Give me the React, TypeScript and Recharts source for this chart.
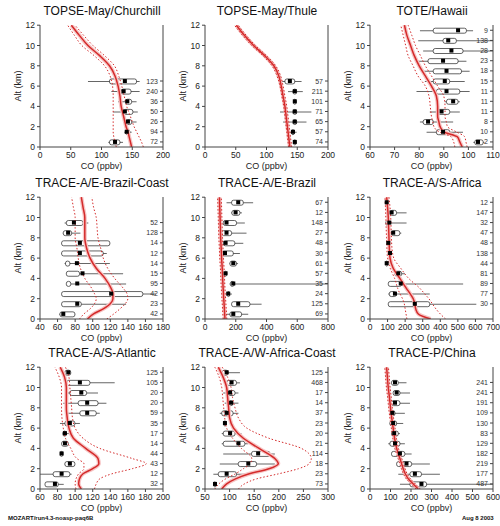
import { ComposedChart, Bar, Line, XAxis, YAxis } from "recharts";

// model profile altitudes (km), shared by all panels
const PROFILE_ALT = [0, 0.5, 1, 1.5, 2, 2.5, 3, 4, 5, 6, 7, 8, 9, 10, 11, 12];

// --- TOPSE-May/Churchill
const churAlt = [6.5, 5.5, 4.5, 3.5, 2.5, 1.5, 0.5];
const churMin = [78, 116, 127, 119, 135, 137, 111];
const churQ1 = [113, 132, 139, 136, 139, 139, 113];
const churMed = [138, 136, 142, 138, 143, 141, 122];
const churQ3 = [157, 148, 149, 151, 149, 146, 130];
const churMax = [162, 162, 157, 159, 157, 149, 135];
const churN = [123, 240, 36, 50, 26, 94, 72];
const churModel = [149, 147, 145, 143, 140, 138, 136, 132, 130, 127, 122, 113, 97, 78, 64, 51];
const churLo = [124, 122, 120, 119, 119, 119, 119, 119, 119, 118, 114, 105, 88, 68, 56, 45];
const churHi = [168, 165, 161, 157, 153, 150, 147, 141, 137, 133, 128, 121, 105, 86, 71, 57];

// --- TOPSE-May/Thule
const thuAlt = [6.5, 5.5, 4.5, 3.5, 2.5, 1.5, 0.5];
const thuMin = [124, 135, 143, 122, 127, 135, 143];
const thuQ1 = [130, 143, 144, 143, 143, 141, 144];
const thuMed = [138, 146, 146, 146, 146, 143, 146];
const thuQ3 = [146, 149, 148, 149, 149, 145, 148];
const thuMax = [157, 159, 149, 173, 165, 149, 149];
const thuN = [57, 211, 101, 71, 65, 57, 74];
const thuModel = [138, 137, 136, 135, 134, 133, 132, 130, 127, 124, 120, 112, 97, 79, 64, 51];
const thuLo = [136, 135, 134, 133, 132, 131, 130, 128, 125, 122, 117, 109, 94, 76, 61, 48];
const thuHi = [141, 140, 139, 138, 137, 136, 135, 133, 130, 127, 123, 115, 100, 82, 67, 54];

// --- TOTE/Hawaii
const hawAlt = [11.5, 10.5, 9.5, 8.5, 7.5, 6.5, 5.5, 4.5, 3.5, 2.5, 1.5, 0.5];
const hawMin = [80.3, 79.6, 81.6, 79.6, 81.6, 82.3, 78.9, 90.4, 84.3, 80.3, 83, 102];
const hawQ1 = [85.7, 89.7, 85.7, 83.6, 85.7, 85.7, 87, 91.1, 87, 81.6, 87, 102.6];
const hawMed = [95.8, 91.8, 93.1, 89.7, 91.1, 90.4, 91.1, 93.8, 89.1, 83.6, 89.7, 103.9];
const hawQ3 = [99.2, 95.1, 97.8, 95.8, 97.2, 92.4, 96.5, 95.8, 92.4, 85.7, 92.4, 106];
const hawMax = [101.9, 110, 110, 99.2, 100.5, 98.5, 100.5, 96.5, 96.5, 93.8, 97.8, 106.5];
const hawN = [9, 138, 28, 23, 18, 15, 11, 11, 11, 8, 10, 2];
const hawModel = [97.5, 96.5, 95.5, 90, 88.5, 88, 87.5, 87.5, 87, 85, 82.5, 80, 78, 76.5, 75, 74];
const hawLo = [94.5, 94, 93, 88, 86, 85.5, 85, 84.5, 84, 82.5, 79.5, 77.5, 75.5, 74.5, 73.5, 72.5];
const hawHi = [99.5, 99, 98.5, 95, 91.5, 91, 90.5, 90.5, 90, 87.5, 85, 82.5, 80.5, 78.5, 77, 75.5];

// --- TRACE-A/E-Brazil-Coast
const ebcAlt = [9.5, 8.5, 7.5, 6.5, 5.5, 4.5, 3.5, 2.5, 1.5, 0.5];
const ebcMin = [68, 66, 64.6, 64.6, 68, 70, 70, 64.6, 64.6, 62];
const ebcQ1 = [70, 66.5, 64.6, 64.6, 69, 70, 70, 64.6, 64.6, 62.7];
const ebcMed = [78.6, 72, 85.4, 85.4, 82, 88.4, 82.4, 121, 82.4, 66.5];
const ebcQ3 = [89, 76, 119.5, 112, 74, 85, 75, 157, 87, 79.7];
const ebcMax = [95, 86, 119.5, 116, 119.5, 134.6, 138, 172, 138, 80];
const ebcN = [52, 128, 14, 12, 14, 15, 95, 42, 23, 42];
const ebcModel = [94, 101, 112, 120, 123, 123, 121, 114, 104, 97, 93, 91, 91, 91, 89, 87];
const ebcLo = [85, 90, 97, 102, 104, 102, 99, 91, 86, 83.5, 82, 80, 80, 80, 78, 76];
const ebcHi = [116, 124, 131, 137, 140, 139, 135, 125, 117, 112, 109, 106, 105, 104, 101, 99];

// --- TRACE-A/E-Brazil
const ebrAlt = [11.5, 10.5, 9.5, 8.5, 7.5, 6.5, 5.5, 4.5, 3.5, 2.5, 1.5, 0.5];
const ebrMin = [140, 170, 119, 108, 119, 108, 160, 125, 160, 140, 173, 140];
const ebrQ1 = [173, 175, 119, 108, 119, 108, 162, 128, 165, 145, 173, 162];
const ebrMed = [216, 199, 140, 140, 134, 130, 184, 134, 184, 151, 216, 184];
const ebrQ3 = [249, 227, 205, 173, 194, 184, 205, 140, 190, 160, 292, 238];
const ebrMax = [313, 240, 259, 270, 249, 227, 215, 145, 800, 175, 368, 281];
const ebrN = [67, 12, 148, 27, 48, 30, 61, 57, 35, 24, 125, 69];
const ebrModel = [130, 128, 126, 124, 122, 120, 118, 115, 112, 108, 105, 102, 100, 98, 96, 94];
const ebrLo = [118, 116, 114, 112, 110, 108, 106, 103, 100, 96, 93, 90, 88, 86, 84, 82];
const ebrHi = [142, 140, 138, 136, 134, 132, 130, 127, 124, 120, 117, 114, 112, 110, 108, 106];

// --- TRACE-A/S-Africa
const safAlt = [11.5, 10.5, 9.5, 8.5, 7.5, 6.5, 5.5, 4.5, 3.5, 2.5, 1.5];
const safMin = [88, 104, 90, 123, 95, 100, 88, 142, 104, 104, 104];
const safQ1 = [90, 114, 90, 123, 98, 105, 90, 142, 104, 110, 104];
const safMed = [95, 123, 110, 132, 104, 114, 95, 161, 175, 142, 255];
const safQ3 = [100, 151, 112, 170, 110, 120, 100, 180, 180, 150, 340];
const safMax = [100, 208, 208, 178, 110, 125, 100, 199, 530, 340, 605];
const safN = [12, 147, 32, 47, 48, 138, 44, 81, 89, 77, 30];
const safModel = [345, 275, 260, 255, 246, 228, 208, 170, 132, 114, 110, 108, 106, 104, 100, 95];
const safLo = [210, 205, 200, 195, 185, 170, 158, 140, 115, 100, 96, 94, 92, 90, 88, 85];
const safHi = [430, 400, 375, 355, 335, 310, 285, 220, 175, 135, 125, 122, 120, 118, 114, 108];

// --- TRACE-A/S-Atlantic
const satAlt = [11.5, 10.5, 9.5, 8.5, 7.5, 6.5, 5.5, 4.5, 3.5, 2.5, 1.5, 0.5];
const satMin = [88.4, 88.4, 88.4, 86.5, 88.4, 82.7, 86, 84.5, 83, 88, 60, 65.7];
const satQ1 = [88.4, 90.3, 94, 103.5, 105.4, 88.4, 86, 84.6, 83, 88.4, 75, 65.7];
const satMed = [92.2, 105.4, 107, 113.7, 113.7, 94, 88.4, 88.4, 84.6, 94, 84.6, 77];
const satQ3 = [95, 116.8, 113, 126, 124, 99.7, 90, 92.2, 86, 99.7, 94, 80.8];
const satMax = [95, 145, 126, 135.6, 128, 105.4, 94, 92.2, 86, 99.7, 96, 87];
const satN = [125, 105, 20, 20, 59, 35, 17, 14, 44, 43, 12, 32];
const satModel = [107, 104, 105, 109, 120, 127, 126, 112, 98, 93, 91, 90, 90, 90, 88, 83];
const satLo = [101, 100, 101, 104, 110, 110, 102, 95, 89, 86.5, 85, 84.5, 84.5, 84.5, 82, 77];
const satHi = [122, 124, 128, 142, 165, 181, 165, 128, 109, 100, 97, 96, 95, 94, 93, 89];

// --- TRACE-A/W-Africa-Coast
const wafAlt = [11.5, 10.5, 9.5, 8.5, 7.5, 6.5, 5.5, 4.5, 3.5, 2.5, 1.5, 0.5];
const wafMin = [80, 90, 87, 90, 80, 88, 84, 84, 87, 80, 67, 68];
const wafQ1 = [85, 94, 94, 97, 84, 88, 87, 87, 144.6, 117.6, 77, 68];
const wafMed = [94, 104, 101, 103, 94, 90.5, 101, 118, 158, 138, 94, 70.3];
const wafQ3 = [97, 114, 111, 107, 107, 93, 111, 131, 182, 154.8, 114, 72];
const wafMax = [121, 121, 118, 118, 118, 93, 124, 138, 192, 192, 138, 72];
const wafN = [125, 468, 17, 14, 37, 23, 20, 21, 114, 18, 23, 73];
const wafModel = [84, 94, 112, 140, 180, 199, 192, 160, 128, 108, 100, 98, 96, 94, 87, 77];
const wafLo = [70, 78, 92, 112, 128, 142, 145, 124, 106, 94, 90, 88, 86, 84, 79, 70];
const wafHi = [118, 130, 155, 200, 240, 262, 266, 246, 180, 135, 118, 111, 106, 103, 96, 85];

// --- TRACE-P/China
const chnAlt = [10.5, 9.5, 8.5, 7.5, 6.5, 5.5, 4.5, 3.5, 2.5, 1.5, 0.5];
const chnMin = [105, 113, 105, 97, 97, 105, 89, 105, 130, 138, 146];
const chnQ1 = [105, 113, 105, 97, 97, 105, 97, 105, 130, 195, 195];
const chnMed = [122, 130, 122, 109, 113, 118, 122, 146, 178, 219, 251];
const chnQ3 = [138, 146, 146, 122, 130, 138, 146, 170, 203, 251, 276];
const chnMax = [178, 195, 195, 170, 162, 146, 170, 203, 292, 341, 600];
const chnN = [241, 241, 191, 109, 130, 83, 129, 182, 219, 177, 487];
const chnModel = [235, 211, 187, 172, 162, 154, 146, 130, 120, 113, 106, 100, 95, 89, 85, 81];
const chnLo = [225, 201, 177, 163, 153, 145, 137, 121, 111, 104, 97, 91, 86, 80, 76, 72];
const chnHi = [245, 221, 197, 181, 171, 163, 155, 139, 129, 122, 115, 109, 104, 98, 94, 90];

const ALT_TICKS = [0, 2, 4, 6, 8, 10, 12];
const ALT_DOMAIN: [number, number] = [0, 12.02];
const RED = "#d42a2a";
const FONT = "'Liberation Sans', Arial, sans-serif";

type PanelProps = {
  title: string;
  xDomain: [number, number];
  xTicks: number[];
  alt: number[];
  wMin: number[];
  q1: number[];
  med: number[];
  q3: number[];
  wMax: number[];
  n: number[];
  model: number[];
  lo: number[];
  hi: number[];
  left: number;
  top: number;
};

function Panel(p: PanelProps) {
  const boxes = p.alt.map((a, i) => ({
    alt: a,
    wMin: p.wMin[i],
    q1: p.q1[i],
    med: p.med[i],
    q3: p.q3[i],
    wMax: p.wMax[i],
  }));
  const profile = PROFILE_ALT.map((a, i) => ({ alt: a, model: p.model[i], lo: p.lo[i], hi: p.hi[i] }));
  const countOf = (v: number) => {
    const i = p.alt.indexOf(v);
    return i < 0 ? "" : String(p.n[i]);
  };
  const medianDot = (d: any) => (
    <rect key={`m-${d.index}`} x={d.cx - 2} y={d.cy - 2} width={4} height={4} fill="#000" />
  );
  return (
    <div style={{ position: "absolute", left: p.left, top: p.top, width: 175, height: 178 }}>
      <div
        style={{
          position: "absolute",
          left: 102,
          top: 4,
          transform: "translateX(-50%)",
          fontSize: 12,
          whiteSpace: "nowrap",
          color: "#111",
        }}
      >
        {p.title}
      </div>
      <ComposedChart
        width={175}
        height={178}
        data={boxes}
        layout="vertical"
        margin={{ top: 25, right: 12, bottom: 8, left: 0 }}
      >
        <XAxis
          xAxisId={0}
          type="number"
          domain={p.xDomain}
          ticks={p.xTicks}
          interval={0}
          allowDataOverflow
          height={23}
          stroke="#444"
          tickSize={3}
          tickMargin={2}
          tick={{ fontSize: 8.5, fill: "#222" }}
          label={{ value: "CO (ppbv)", position: "insideBottom", offset: 1, fontSize: 9, fill: "#222" }}
        />
        <XAxis xAxisId="top" orientation="top" type="number" domain={p.xDomain} height={0} tick={false} tickLine={false} stroke="#444" />
        <YAxis
          yAxisId={0}
          type="number"
          dataKey="alt"
          reversed
          domain={ALT_DOMAIN}
          ticks={ALT_TICKS}
          interval={0}
          allowDataOverflow
          width={40}
          stroke="#444"
          tickSize={3}
          tickMargin={2}
          tick={{ fontSize: 8.5, fill: "#222" }}
          label={{ value: "Alt (km)", angle: -90, position: "insideLeft", offset: 18, fontSize: 9, fill: "#222", style: { textAnchor: "middle" } }}
        />
        <YAxis
          yAxisId="n"
          orientation="right"
          mirror
          type="number"
          dataKey="alt"
          reversed
          domain={ALT_DOMAIN}
          ticks={p.alt}
          interval={0}
          allowDataOverflow
          stroke="#444"
          tickSize={3}
          tickMargin={2}
          tickFormatter={countOf}
          tick={{ fontSize: 7, fill: "#333" }}
        />
        <YAxis yAxisId="w" hide type="number" dataKey="alt" reversed domain={ALT_DOMAIN} allowDataOverflow />
        <Bar yAxisId="w" dataKey={(d: any) => [d.wMin, d.wMax]} barSize={1} fill="#666" isAnimationActive={false} />
        <Bar
          yAxisId="n"
          dataKey={(d: any) => [d.q1, d.q3]}
          barSize={5}
          fill="#fff"
          stroke="#222"
          strokeWidth={0.7}
          radius={2}
          isAnimationActive={false}
        />
        <Line yAxisId={0} data={profile} dataKey="model" type="monotoneY" stroke="#f7c4c4" strokeWidth={4} dot={false} isAnimationActive={false} />
        <Line yAxisId={0} data={profile} dataKey="lo" type="monotoneY" stroke={RED} strokeWidth={1} strokeDasharray="1.5 2" dot={false} isAnimationActive={false} />
        <Line yAxisId={0} data={profile} dataKey="hi" type="monotoneY" stroke={RED} strokeWidth={1} strokeDasharray="1.5 2" dot={false} isAnimationActive={false} />
        <Line yAxisId={0} data={profile} dataKey="model" type="monotoneY" stroke={RED} strokeWidth={1.5} dot={false} isAnimationActive={false} />
        <Line yAxisId={0} dataKey="med" stroke="none" dot={medianDot} activeDot={false} isAnimationActive={false} />
      </ComposedChart>
    </div>
  );
}

const COLS = [0, 165, 330];
const ROWS = [0, 172, 342];

export default function App() {
  return (
    <div style={{ position: "absolute", left: 0, top: 0, width: 500, height: 526, background: "#fff", fontFamily: FONT, overflow: "hidden" }}>
      <Panel title="TOPSE-May/Churchill" xDomain={[0, 200]} xTicks={[0, 50, 100, 150, 200]}
        alt={churAlt} wMin={churMin} q1={churQ1} med={churMed} q3={churQ3} wMax={churMax} n={churN}
        model={churModel} lo={churLo} hi={churHi} left={COLS[0]} top={ROWS[0]} />
      <Panel title="TOPSE-May/Thule" xDomain={[0, 200]} xTicks={[0, 50, 100, 150, 200]}
        alt={thuAlt} wMin={thuMin} q1={thuQ1} med={thuMed} q3={thuQ3} wMax={thuMax} n={thuN}
        model={thuModel} lo={thuLo} hi={thuHi} left={COLS[1]} top={ROWS[0]} />
      <Panel title="TOTE/Hawaii" xDomain={[60, 110]} xTicks={[60, 70, 80, 90, 100, 110]}
        alt={hawAlt} wMin={hawMin} q1={hawQ1} med={hawMed} q3={hawQ3} wMax={hawMax} n={hawN}
        model={hawModel} lo={hawLo} hi={hawHi} left={COLS[2]} top={ROWS[0]} />
      <Panel title="TRACE-A/E-Brazil-Coast" xDomain={[40, 180]} xTicks={[40, 60, 80, 100, 120, 140, 160, 180]}
        alt={ebcAlt} wMin={ebcMin} q1={ebcQ1} med={ebcMed} q3={ebcQ3} wMax={ebcMax} n={ebcN}
        model={ebcModel} lo={ebcLo} hi={ebcHi} left={COLS[0]} top={ROWS[1]} />
      <Panel title="TRACE-A/E-Brazil" xDomain={[0, 800]} xTicks={[0, 200, 400, 600, 800]}
        alt={ebrAlt} wMin={ebrMin} q1={ebrQ1} med={ebrMed} q3={ebrQ3} wMax={ebrMax} n={ebrN}
        model={ebrModel} lo={ebrLo} hi={ebrHi} left={COLS[1]} top={ROWS[1]} />
      <Panel title="TRACE-A/S-Africa" xDomain={[0, 700]} xTicks={[0, 100, 200, 300, 400, 500, 600, 700]}
        alt={safAlt} wMin={safMin} q1={safQ1} med={safMed} q3={safQ3} wMax={safMax} n={safN}
        model={safModel} lo={safLo} hi={safHi} left={COLS[2]} top={ROWS[1]} />
      <Panel title="TRACE-A/S-Atlantic" xDomain={[60, 200]} xTicks={[60, 80, 100, 120, 140, 160, 180, 200]}
        alt={satAlt} wMin={satMin} q1={satQ1} med={satMed} q3={satQ3} wMax={satMax} n={satN}
        model={satModel} lo={satLo} hi={satHi} left={COLS[0]} top={ROWS[2]} />
      <Panel title="TRACE-A/W-Africa-Coast" xDomain={[50, 300]} xTicks={[50, 100, 150, 200, 250, 300]}
        alt={wafAlt} wMin={wafMin} q1={wafQ1} med={wafMed} q3={wafQ3} wMax={wafMax} n={wafN}
        model={wafModel} lo={wafLo} hi={wafHi} left={COLS[1]} top={ROWS[2]} />
      <Panel title="TRACE-P/China" xDomain={[0, 600]} xTicks={[0, 100, 200, 300, 400, 500, 600]}
        alt={chnAlt} wMin={chnMin} q1={chnQ1} med={chnMed} q3={chnQ3} wMax={chnMax} n={chnN}
        model={chnModel} lo={chnLo} hi={chnHi} left={COLS[2]} top={ROWS[2]} />
      <div style={{ position: "absolute", left: 8, top: 515, fontSize: 6, fontWeight: "bold", color: "#111", whiteSpace: "nowrap" }}>
        MOZART/run4.3-noasp-paq6B
      </div>
      <div style={{ position: "absolute", left: 462, top: 515, fontSize: 6, fontWeight: "bold", color: "#111", whiteSpace: "nowrap" }}>
        Aug 8 2003
      </div>
    </div>
  );
}
